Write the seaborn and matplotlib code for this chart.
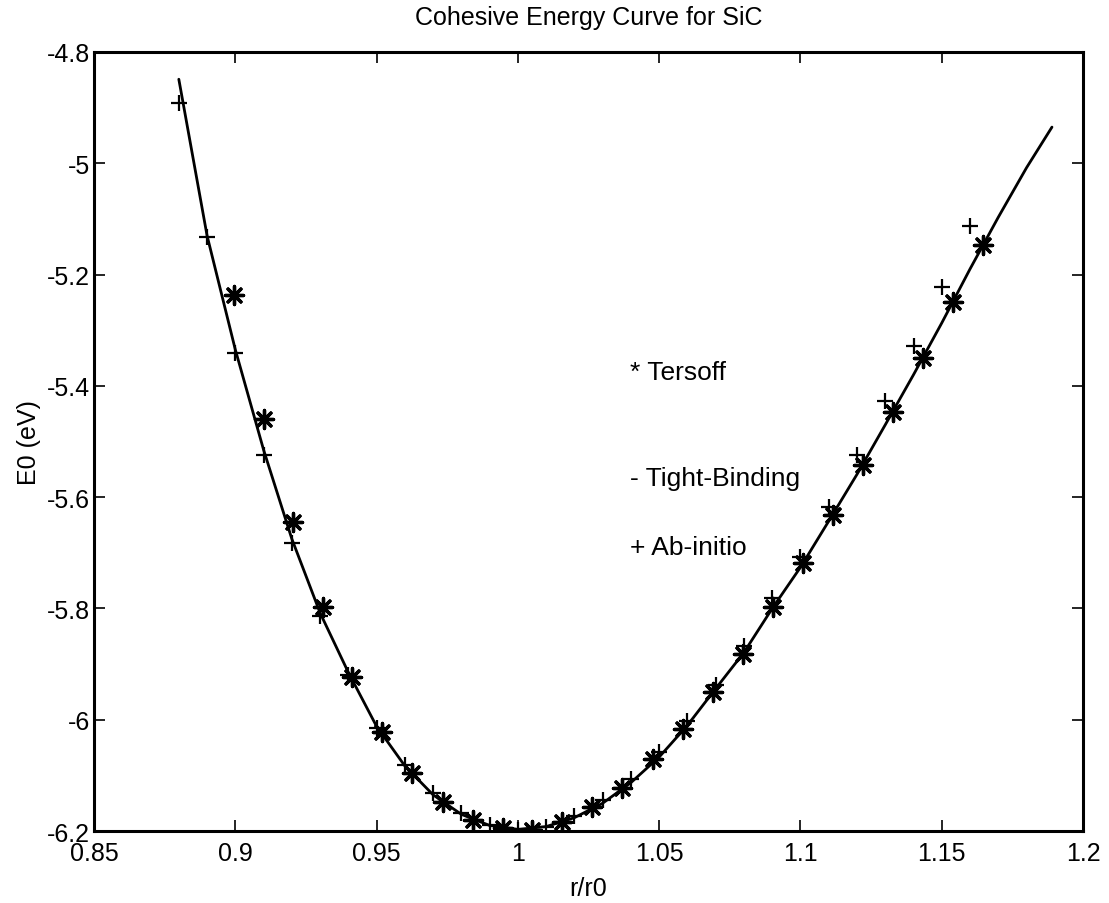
import matplotlib
matplotlib.use("Agg")
import matplotlib.pyplot as plt
import seaborn as sns
import pandas as pd

# ---- data ----
tb_r = [0.880, 0.890, 0.900, 0.910, 0.920, 0.930, 0.940, 0.950, 0.960, 0.970,
        0.980, 0.990, 1.000, 1.010, 1.020, 1.030, 1.040, 1.050, 1.060, 1.070,
        1.080, 1.090, 1.100, 1.110, 1.120, 1.130, 1.140, 1.150, 1.160, 1.170,
        1.180, 1.189]
tb_e = [-4.849, -5.130, -5.335, -5.515, -5.675, -5.808, -5.915, -6.012, -6.083, -6.135,
        -6.170, -6.190, -6.197, -6.192, -6.176, -6.150, -6.113, -6.067, -6.010, -5.944,
        -5.879, -5.800, -5.726, -5.643, -5.559, -5.470, -5.380, -5.287, -5.190, -5.097,
        -5.008, -4.935]

tersoff_r = [0.8995, 0.910, 0.9204, 0.931, 0.9413, 0.952, 0.9625, 0.9735, 0.984, 0.9947,
             1.005, 1.0156, 1.0262, 1.0368, 1.0478, 1.0584, 1.069, 1.0797, 1.0903, 1.1009,
             1.1115, 1.122, 1.1327, 1.1433, 1.154, 1.1646]
tersoff_e = [-5.236, -5.459, -5.645, -5.798, -5.924, -6.022, -6.095, -6.148, -6.180, -6.195,
             -6.198, -6.184, -6.157, -6.123, -6.070, -6.016, -5.951, -5.881, -5.798, -5.719,
             -5.632, -5.542, -5.447, -5.350, -5.249, -5.146]

abinitio_r = [0.880, 0.890, 0.900, 0.910, 0.920, 0.930, 0.940, 0.950, 0.960, 0.970,
              0.980, 0.990, 1.000, 1.010, 1.020, 1.030, 1.040, 1.050, 1.060, 1.070,
              1.080, 1.090, 1.100, 1.110, 1.120, 1.130, 1.140, 1.150, 1.160]
abinitio_e = [-4.892, -5.133, -5.341, -5.524, -5.683, -5.813, -5.920, -6.014, -6.081, -6.132,
              -6.168, -6.189, -6.198, -6.193, -6.173, -6.144, -6.106, -6.058, -6.002, -5.937,
              -5.867, -5.782, -5.708, -5.618, -5.524, -5.427, -5.328, -5.222, -5.113]

x_ticks = [0.85, 0.9, 0.95, 1.0, 1.05, 1.1, 1.15, 1.2]
x_ticklabels = ["0.85", "0.9", "0.95", "1", "1.05", "1.1", "1.15", "1.2"]
y_ticks = [-6.2, -6.0, -5.8, -5.6, -5.4, -5.2, -5.0, -4.8]
y_ticklabels = ["-6.2", "-6", "-5.8", "-5.6", "-5.4", "-5.2", "-5", "-4.8"]

legend_labels = ["* Tersoff", "- Tight-Binding", "+ Ab-initio"]
legend_y = [-5.375, -5.566, -5.69]

title = "Cohesive Energy Curve for SiC"
xlabel = "r/r0"
ylabel = "E0 (eV)"

# ---- style ----
sns.set_theme(style="white")
plt.rcParams["font.family"] = ["Liberation Sans", "DejaVu Sans"]
FS = 18
FS_LEG = 19

fig = plt.figure(figsize=(11.09, 9.04), dpi=100)
ax = fig.add_axes([0.0848, 0.0796, 0.8918, 0.8618])

df_tb = pd.DataFrame({"r": tb_r, "e": tb_e})
df_t = pd.DataFrame({"r": tersoff_r, "e": tersoff_e})
df_a = pd.DataFrame({"r": abinitio_r, "e": abinitio_e})

sns.lineplot(data=df_tb, x="r", y="e", ax=ax, color="black", linewidth=2.0,
             sort=False, estimator=None)
sns.scatterplot(data=df_t, x="r", y="e", ax=ax, marker=(8, 2, 0), s=170,
                color="black", edgecolor="black", linewidth=2.4, zorder=3)
sns.scatterplot(data=df_a, x="r", y="e", ax=ax, marker="+", s=140,
                color="black", linewidth=1.6, zorder=3)

ax.set_xlim(0.85, 1.2)
ax.set_ylim(-6.2, -4.8)
ax.set_xticks(x_ticks)
ax.set_xticklabels(x_ticklabels, fontsize=FS)
ax.set_yticks(y_ticks)
ax.set_yticklabels(y_ticklabels, fontsize=FS)
ax.tick_params(direction="in", length=8, width=1.2, top=True, right=True,
               bottom=True, left=True, colors="black")
ax.tick_params(axis="x", pad=7)
ax.tick_params(axis="y", pad=3)
for sp in ax.spines.values():
    sp.set_visible(True)
    sp.set_color("black")
    sp.set_linewidth(2.2)

for lab, yy in zip(legend_labels, legend_y):
    ax.text(1.0395, yy, lab, fontsize=FS_LEG, color="black", va="center", ha="left")

ax.set_title(title, fontsize=FS, pad=20, color="black")
ax.set_xlabel(xlabel, fontsize=FS, labelpad=8, color="black")
ax.set_ylabel(ylabel, fontsize=FS, labelpad=4, color="black")

fig.savefig("out.png", dpi=100, facecolor="white")
